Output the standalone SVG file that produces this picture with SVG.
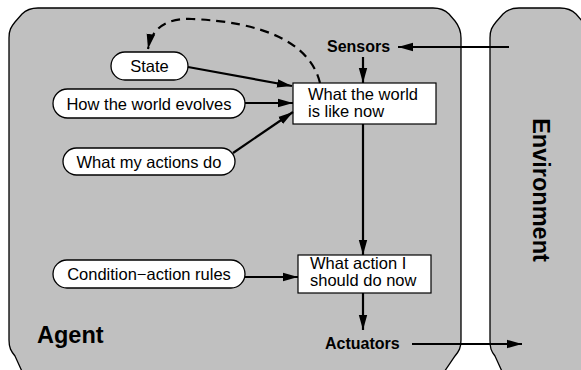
<svg xmlns="http://www.w3.org/2000/svg" width="581" height="370" viewBox="0 0 581 370">
  <style>
    .panel { fill: #c0c0c0; stroke: #000; stroke-width: 1.3; }
    .pill { fill: #fff; stroke: #000; stroke-width: 1.3; }
    .box { fill: #fff; stroke: #000; stroke-width: 1.2; }
    .lbl { font-family: "Liberation Sans", Arial, sans-serif; font-size: 16.5px; fill: #000; }
    .bold { font-family: "Liberation Sans", Arial, sans-serif; font-weight: bold; fill: #000; }
    .wire { fill: none; stroke: #000; stroke-width: 2.2; marker-end: url(#head); }
    .dash { fill: none; stroke: #000; stroke-width: 2.2; stroke-dasharray: 9 6; marker-end: url(#head); }
  </style>
  <defs>
    <marker id="head" markerUnits="userSpaceOnUse" markerWidth="16" markerHeight="10" refX="15" refY="5" orient="auto">
      <path d="M0,0.8 L15,5 L0,9.2 Z" fill="#000"/>
    </marker>
  </defs>

  <rect width="581" height="370" fill="#fff"/>

  <!-- agent and environment panels -->
  <g id="agent">
    <path class="panel" d="M9,38 C9,30 11,27 15,22 L22,14 C26,10 30,8 38,8 L433,8 C441,8 445,10 449,14 L455,21 C459,26 461,30 461,38 L461,340 C461,348 459,351 455,356 L440,378 L25,378 L15,356 C11,351 9,348 9,340 Z"/>
    <text class="bold" x="37" y="343" font-size="23.5">Agent</text>
  </g>
  <g id="environment">
    <path class="panel" d="M490,38 C490,30 492,27 496,22 L503,14 C507,10 511,8 519,8 L560,8 C568,8 572,10 576,14 L582,21 C586,26 588,30 588,38 L588,378 L505,378 L495,356 C491,351 490,348 490,340 Z"/>
    <text class="bold" font-size="23.5" text-anchor="middle" transform="translate(533,190) rotate(90)">Environment</text>
  </g>

  <!-- nodes -->
  <g id="sensors">
    <text class="bold" x="327" y="52" font-size="16">Sensors</text>
  </g>
  <g id="actuators">
    <text class="bold" x="325" y="349" font-size="16">Actuators</text>
  </g>
  <g id="state">
    <rect class="pill" x="111" y="52" width="77" height="28" rx="14"/>
    <text class="lbl" x="149.5" y="72" text-anchor="middle">State</text>
  </g>
  <g id="world-evolves">
    <rect class="pill" x="53" y="89" width="192" height="29" rx="14.5"/>
    <text class="lbl" x="149" y="109.5" text-anchor="middle">How the world evolves</text>
  </g>
  <g id="actions-do">
    <rect class="pill" x="63" y="148" width="172" height="27" rx="13.5"/>
    <text class="lbl" x="149" y="167.5" text-anchor="middle">What my actions do</text>
  </g>
  <g id="rules">
    <rect class="pill" x="53" y="260" width="192" height="28" rx="14"/>
    <text class="lbl" x="149" y="280" text-anchor="middle">Condition−action rules</text>
  </g>
  <g id="world-now">
    <rect class="box" x="293" y="83" width="143" height="41"/>
    <text class="lbl"><tspan x="308" y="100">What the world</tspan><tspan x="308" y="116.5">is like now</tspan></text>
  </g>
  <g id="action-now">
    <rect class="box" x="298" y="255" width="133" height="38"/>
    <text class="lbl"><tspan x="310" y="269">What action I</tspan><tspan x="310" y="285.5">should do now</tspan></text>
  </g>

  <!-- connectors -->
  <g id="connectors">
    <path class="wire" d="M509,47 L398,47"/>
    <path class="wire" d="M363,57 L363,83"/>
    <path class="wire" d="M188,67 L292,86"/>
    <path class="wire" d="M245,103 L293,103"/>
    <path class="wire" d="M233,153 L293,112"/>
    <path class="dash" d="M320,83 C310,42 262,22 192,19 C166,18 152,28 148,49"/>
    <path class="wire" d="M363,124 L363,255"/>
    <path class="wire" d="M245,277 L298,277"/>
    <path class="wire" d="M363,293 L363,330"/>
    <path class="wire" d="M412,344 L522,344"/>
  </g>
</svg>
